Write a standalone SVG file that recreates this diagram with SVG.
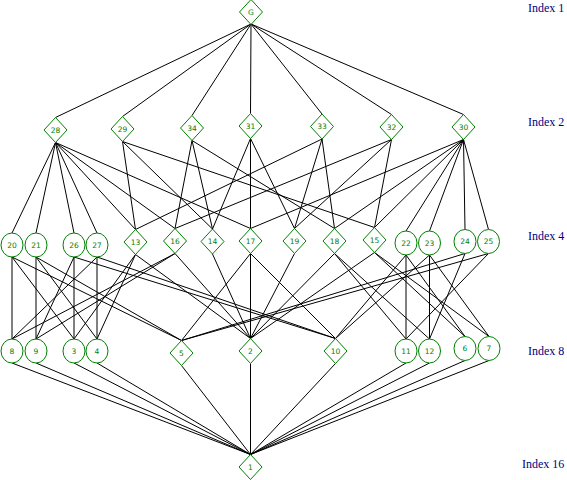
<svg xmlns="http://www.w3.org/2000/svg" width="567" height="480" viewBox="0 0 567 480">
<style>
.d{fill:#fff;stroke:#008000;stroke-width:1}
.t{font-family:"DejaVu Sans",sans-serif;font-size:7.5px;fill:#008000;text-anchor:middle}
.ix{font-family:"Liberation Serif",serif;font-size:12px;fill:#000080}
#edges line{stroke:#000;stroke-width:1}
</style>
<defs>
<polygon id="dia" points="0,-12.5 11.5,0 0,12.5 -11.5,0"/>
<ellipse id="cir" cx="0" cy="0" rx="11" ry="12"/>
</defs>
<rect width="567" height="480" fill="#fff"/>
<g id="edges">
<line x1="251" y1="24" x2="55.5" y2="117.5"/>
<line x1="251" y1="24" x2="122.5" y2="116.5"/>
<line x1="251" y1="24" x2="192" y2="115.5"/>
<line x1="251" y1="24" x2="250.5" y2="113.5"/>
<line x1="251" y1="24" x2="322" y2="114"/>
<line x1="251" y1="24" x2="391.5" y2="114.5"/>
<line x1="251" y1="24" x2="463.5" y2="114.5"/>
<line x1="55.5" y1="142.5" x2="12" y2="233"/>
<line x1="55.5" y1="142.5" x2="36" y2="233"/>
<line x1="55.5" y1="142.5" x2="74" y2="233"/>
<line x1="55.5" y1="142.5" x2="97" y2="233"/>
<line x1="55.5" y1="142.5" x2="135.5" y2="229.5"/>
<line x1="55.5" y1="142.5" x2="175" y2="228.5"/>
<line x1="55.5" y1="142.5" x2="250.5" y2="228.5"/>
<line x1="122.5" y1="141.5" x2="135.5" y2="229.5"/>
<line x1="122.5" y1="141.5" x2="212.5" y2="229"/>
<line x1="122.5" y1="141.5" x2="374.5" y2="227.5"/>
<line x1="192" y1="140.5" x2="175" y2="228.5"/>
<line x1="192" y1="140.5" x2="212.5" y2="229"/>
<line x1="192" y1="140.5" x2="334.5" y2="228.5"/>
<line x1="250.5" y1="138.5" x2="212.5" y2="229"/>
<line x1="250.5" y1="138.5" x2="250.5" y2="228.5"/>
<line x1="250.5" y1="138.5" x2="294.5" y2="228.5"/>
<line x1="322" y1="139" x2="135.5" y2="229.5"/>
<line x1="322" y1="139" x2="294.5" y2="228.5"/>
<line x1="322" y1="139" x2="334.5" y2="228.5"/>
<line x1="391.5" y1="139.5" x2="175" y2="228.5"/>
<line x1="391.5" y1="139.5" x2="294.5" y2="228.5"/>
<line x1="391.5" y1="139.5" x2="374.5" y2="227.5"/>
<line x1="463.5" y1="139.5" x2="250.5" y2="228.5"/>
<line x1="463.5" y1="139.5" x2="334.5" y2="228.5"/>
<line x1="463.5" y1="139.5" x2="374.5" y2="227.5"/>
<line x1="463.5" y1="139.5" x2="406" y2="231"/>
<line x1="463.5" y1="139.5" x2="429.5" y2="231"/>
<line x1="463.5" y1="139.5" x2="465" y2="229.5"/>
<line x1="463.5" y1="139.5" x2="488.5" y2="229.5"/>
<line x1="12" y1="257" x2="12" y2="339"/>
<line x1="12" y1="257" x2="74" y2="339"/>
<line x1="12" y1="257" x2="181.5" y2="340.5"/>
<line x1="36" y1="257" x2="36" y2="339"/>
<line x1="36" y1="257" x2="97" y2="339"/>
<line x1="36" y1="257" x2="181.5" y2="340.5"/>
<line x1="74" y1="257" x2="74" y2="339"/>
<line x1="74" y1="257" x2="36" y2="339"/>
<line x1="74" y1="257" x2="335.5" y2="338.5"/>
<line x1="97" y1="257" x2="97" y2="339"/>
<line x1="97" y1="257" x2="12" y2="339"/>
<line x1="97" y1="257" x2="335.5" y2="338.5"/>
<line x1="135.5" y1="254.5" x2="74" y2="339"/>
<line x1="135.5" y1="254.5" x2="97" y2="339"/>
<line x1="135.5" y1="254.5" x2="250.5" y2="338.5"/>
<line x1="175" y1="253.5" x2="12" y2="339"/>
<line x1="175" y1="253.5" x2="36" y2="339"/>
<line x1="175" y1="253.5" x2="250.5" y2="338.5"/>
<line x1="212.5" y1="254" x2="250.5" y2="338.5"/>
<line x1="250.5" y1="253.5" x2="181.5" y2="340.5"/>
<line x1="250.5" y1="253.5" x2="250.5" y2="338.5"/>
<line x1="250.5" y1="253.5" x2="335.5" y2="338.5"/>
<line x1="294.5" y1="253.5" x2="250.5" y2="338.5"/>
<line x1="334.5" y1="253.5" x2="250.5" y2="338.5"/>
<line x1="334.5" y1="253.5" x2="406" y2="339"/>
<line x1="334.5" y1="253.5" x2="429.5" y2="339"/>
<line x1="374.5" y1="252.5" x2="250.5" y2="338.5"/>
<line x1="374.5" y1="252.5" x2="465" y2="336.5"/>
<line x1="374.5" y1="252.5" x2="489" y2="336.5"/>
<line x1="406" y1="255" x2="406" y2="339"/>
<line x1="406" y1="255" x2="465" y2="336.5"/>
<line x1="406" y1="255" x2="335.5" y2="338.5"/>
<line x1="429.5" y1="255" x2="429.5" y2="339"/>
<line x1="429.5" y1="255" x2="489" y2="336.5"/>
<line x1="429.5" y1="255" x2="335.5" y2="338.5"/>
<line x1="465" y1="253.5" x2="429.5" y2="339"/>
<line x1="465" y1="253.5" x2="181.5" y2="340.5"/>
<line x1="488.5" y1="253.5" x2="406" y2="339"/>
<line x1="488.5" y1="253.5" x2="181.5" y2="340.5"/>
<line x1="12" y1="363" x2="250.5" y2="454.5"/>
<line x1="36" y1="363" x2="250.5" y2="454.5"/>
<line x1="74" y1="363" x2="250.5" y2="454.5"/>
<line x1="97" y1="363" x2="250.5" y2="454.5"/>
<line x1="181.5" y1="365.5" x2="250.5" y2="454.5"/>
<line x1="250.5" y1="363.5" x2="250.5" y2="454.5"/>
<line x1="335.5" y1="363.5" x2="250.5" y2="454.5"/>
<line x1="406" y1="363" x2="250.5" y2="454.5"/>
<line x1="429.5" y1="363" x2="250.5" y2="454.5"/>
<line x1="465" y1="360.5" x2="250.5" y2="454.5"/>
<line x1="489" y1="360.5" x2="250.5" y2="454.5"/>
</g>
<g id="nG" transform="translate(251,12)"><use href="#dia" class="d"/><text class="t" y="2.7">G</text></g>
<g id="n28" transform="translate(55.5,130)"><use href="#dia" class="d"/><text class="t" y="2.7">28</text></g>
<g id="n29" transform="translate(122.5,129)"><use href="#dia" class="d"/><text class="t" y="2.7">29</text></g>
<g id="n34" transform="translate(192,128)"><use href="#dia" class="d"/><text class="t" y="2.7">34</text></g>
<g id="n31" transform="translate(250.5,126)"><use href="#dia" class="d"/><text class="t" y="2.7">31</text></g>
<g id="n33" transform="translate(322,126.5)"><use href="#dia" class="d"/><text class="t" y="2.7">33</text></g>
<g id="n32" transform="translate(391.5,127)"><use href="#dia" class="d"/><text class="t" y="2.7">32</text></g>
<g id="n30" transform="translate(463.5,127)"><use href="#dia" class="d"/><text class="t" y="2.7">30</text></g>
<g id="n20" transform="translate(12,245)"><use href="#cir" class="d"/><text class="t" y="2.7">20</text></g>
<g id="n21" transform="translate(36,245)"><use href="#cir" class="d"/><text class="t" y="2.7">21</text></g>
<g id="n26" transform="translate(74,245)"><use href="#cir" class="d"/><text class="t" y="2.7">26</text></g>
<g id="n27" transform="translate(97,245)"><use href="#cir" class="d"/><text class="t" y="2.7">27</text></g>
<g id="n13" transform="translate(135.5,242)"><use href="#dia" class="d"/><text class="t" y="2.7">13</text></g>
<g id="n16" transform="translate(175,241)"><use href="#dia" class="d"/><text class="t" y="2.7">16</text></g>
<g id="n14" transform="translate(212.5,241.5)"><use href="#dia" class="d"/><text class="t" y="2.7">14</text></g>
<g id="n17" transform="translate(250.5,241)"><use href="#dia" class="d"/><text class="t" y="2.7">17</text></g>
<g id="n19" transform="translate(294.5,241)"><use href="#dia" class="d"/><text class="t" y="2.7">19</text></g>
<g id="n18" transform="translate(334.5,241)"><use href="#dia" class="d"/><text class="t" y="2.7">18</text></g>
<g id="n15" transform="translate(374.5,240)"><use href="#dia" class="d"/><text class="t" y="2.7">15</text></g>
<g id="n22" transform="translate(406,243)"><use href="#cir" class="d"/><text class="t" y="2.7">22</text></g>
<g id="n23" transform="translate(429.5,243)"><use href="#cir" class="d"/><text class="t" y="2.7">23</text></g>
<g id="n24" transform="translate(465,241.5)"><use href="#cir" class="d"/><text class="t" y="2.7">24</text></g>
<g id="n25" transform="translate(488.5,241.5)"><use href="#cir" class="d"/><text class="t" y="2.7">25</text></g>
<g id="n8" transform="translate(12,351)"><use href="#cir" class="d"/><text class="t" y="2.7">8</text></g>
<g id="n9" transform="translate(36,351)"><use href="#cir" class="d"/><text class="t" y="2.7">9</text></g>
<g id="n3" transform="translate(74,351)"><use href="#cir" class="d"/><text class="t" y="2.7">3</text></g>
<g id="n4" transform="translate(97,351)"><use href="#cir" class="d"/><text class="t" y="2.7">4</text></g>
<g id="n5" transform="translate(181.5,353)"><use href="#dia" class="d"/><text class="t" y="2.7">5</text></g>
<g id="n2" transform="translate(250.5,351)"><use href="#dia" class="d"/><text class="t" y="2.7">2</text></g>
<g id="n10" transform="translate(335.5,351)"><use href="#dia" class="d"/><text class="t" y="2.7">10</text></g>
<g id="n11" transform="translate(406,351)"><use href="#cir" class="d"/><text class="t" y="2.7">11</text></g>
<g id="n12" transform="translate(429.5,351)"><use href="#cir" class="d"/><text class="t" y="2.7">12</text></g>
<g id="n6" transform="translate(465,348.5)"><use href="#cir" class="d"/><text class="t" y="2.7">6</text></g>
<g id="n7" transform="translate(489,348.5)"><use href="#cir" class="d"/><text class="t" y="2.7">7</text></g>
<g id="n1" transform="translate(250.5,467)"><use href="#dia" class="d"/><text class="t" y="2.7">1</text></g>
<g id="labels">
<text class="ix" x="528" y="12">Index 1</text>
<text class="ix" x="528" y="126">Index 2</text>
<text class="ix" x="528" y="240">Index 4</text>
<text class="ix" x="528" y="355">Index 8</text>
<text class="ix" x="522" y="468">Index 16</text>
</g>
</svg>
